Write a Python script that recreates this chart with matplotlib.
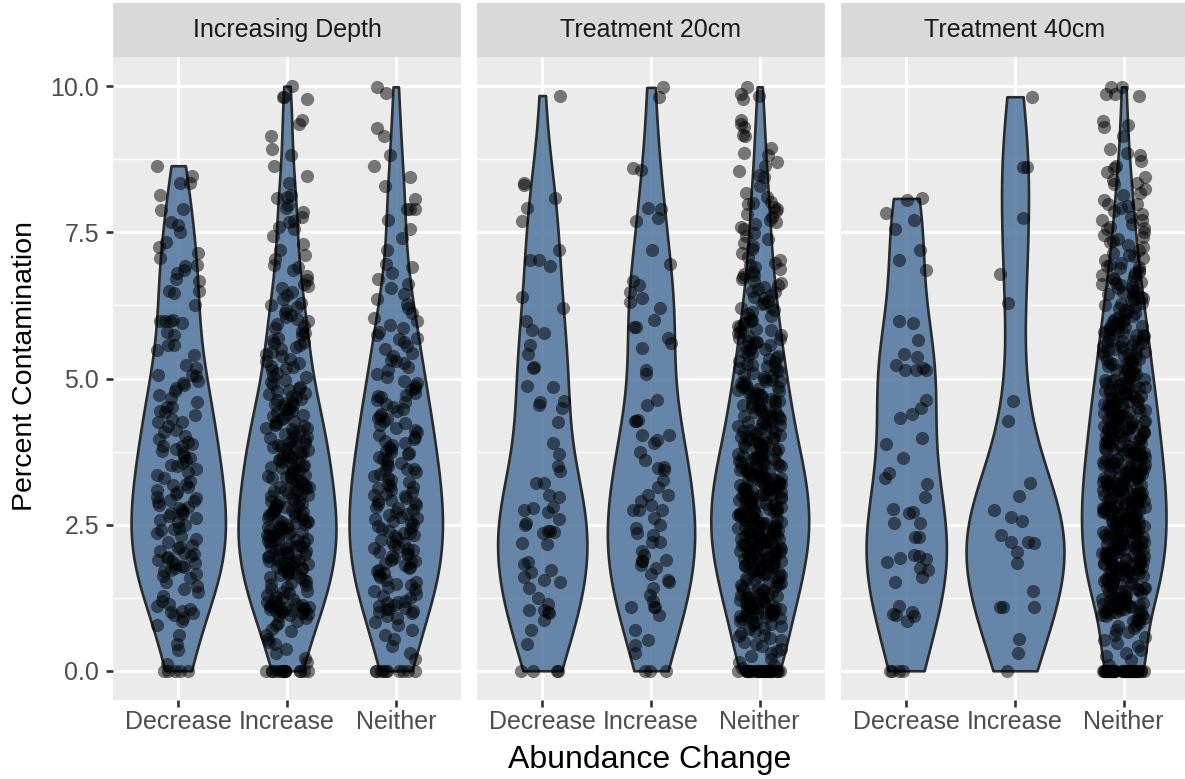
import numpy as np
import matplotlib
matplotlib.use("Agg")
import matplotlib.pyplot as plt
from matplotlib import cbook, font_manager

# ---------------------------------------------------------------- data
panel_titles = ["Increasing Depth", "Treatment 20cm", "Treatment 40cm"]
categories = ["Decrease", "Increase", "Neither"]
y_ticks = [0.0, 2.5, 5.0, 7.5, 10.0]
y_tick_labels = ["0.0", "2.5", "5.0", "7.5", "10.0"]
y_minor_ticks = [1.25, 3.75, 6.25, 8.75]
x_title = "Abundance Change"
y_title = "Percent Contamination"

depth_decrease = [
    0.0, 0.0, 0.0, 0.0, 0.0,
    0.12, 0.35, 0.45, 0.62, 0.78, 0.85, 0.9, 0.95, 0.98,
    1.0, 1.02, 1.05, 1.1, 1.15, 1.2, 1.28, 1.35, 1.4, 1.45, 1.52, 1.58, 1.62, 1.66,
    1.7, 1.72, 1.75, 1.78, 1.8, 1.82, 1.85, 1.88, 1.9, 1.93, 1.95, 1.97, 1.99,
    2.02, 2.05, 2.1, 2.15, 2.2, 2.25, 2.3, 2.35, 2.4, 2.45, 2.5, 2.55, 2.58, 2.62,
    2.65, 2.7, 2.72, 2.75, 2.78, 2.8, 2.84, 2.88, 2.9, 2.93, 2.96, 2.98, 2.12, 2.42, 2.68,
    3.02, 3.06, 3.1, 3.15, 3.2, 3.25, 3.3, 3.35, 3.4, 3.45, 3.5, 3.55, 3.6, 3.64,
    3.68, 3.72, 3.76, 3.8, 3.84, 3.88, 3.92, 3.96, 3.18, 3.52, 3.85,
    4.02, 4.08, 4.12, 4.18, 4.26, 4.26, 4.3, 4.38, 4.43, 4.45, 4.52, 4.52, 4.6, 4.66,
    4.72, 4.78, 4.84, 4.89, 4.92, 4.96,
    5.04, 5.06, 5.06, 5.18, 5.23, 5.4, 5.49, 5.58, 5.58, 5.74, 5.8, 5.95, 5.99, 5.99, 5.99,
    6.0, 6.26, 6.46, 6.49, 6.49, 6.66, 6.7, 6.8, 6.86, 6.92, 6.94,
    7.06, 7.15, 7.25, 7.34, 7.5, 7.63, 7.68, 7.88, 7.9,
    8.14, 8.34, 8.34, 8.47, 8.64,
]

depth_increase = [0.0] * 14 + [
    0.15, 0.22, 0.3, 0.38, 0.45, 0.5, 0.55, 0.62, 0.68, 0.72, 0.78, 0.82, 0.86, 0.9,
    0.93, 0.95, 0.97, 0.99,
    1.0, 1.01, 1.02, 1.03, 1.05, 1.06, 1.08, 1.1, 1.11, 1.13, 1.15, 1.17, 1.2, 1.22,
    1.25, 1.28, 1.3, 1.33, 1.36, 1.4, 1.43, 1.46, 1.5, 1.53, 1.56, 1.6, 1.63, 1.65,
    1.68, 1.7, 1.72, 1.74, 1.76, 1.78, 1.8, 1.82, 1.84, 1.86, 1.88, 1.9, 1.92, 1.94,
    1.96, 1.98, 1.07, 1.12, 1.18, 1.35, 1.48, 1.58, 1.67, 1.73, 1.79, 1.85, 1.91, 1.97,
    1.04, 1.09,
    2.0, 2.02, 2.04, 2.06, 2.08, 2.1, 2.12, 2.14, 2.16, 2.18, 2.2, 2.22, 2.24, 2.26,
    2.28, 2.3, 2.32, 2.34, 2.36, 2.38, 2.4, 2.42, 2.44, 2.46, 2.48, 2.5, 2.52, 2.54,
    2.56, 2.58, 2.6, 2.62, 2.64, 2.66, 2.68, 2.7, 2.72, 2.74, 2.76, 2.78, 2.8, 2.82,
    2.84, 2.86, 2.88, 2.9, 2.93, 2.96, 2.99, 2.05, 2.15, 2.25, 2.35, 2.45, 2.55, 2.65,
    2.75, 2.85, 2.11, 2.31, 2.51, 2.71, 2.91,
    3.0, 3.02, 3.05, 3.07, 3.1, 3.12, 3.15, 3.17, 3.2, 3.22, 3.25, 3.27, 3.3, 3.32,
    3.35, 3.37, 3.4, 3.42, 3.45, 3.47, 3.5, 3.52, 3.55, 3.57, 3.6, 3.62, 3.65, 3.67,
    3.7, 3.72, 3.75, 3.77, 3.8, 3.82, 3.85, 3.87, 3.9, 3.92, 3.95, 3.98, 3.04, 3.14,
    3.24, 3.34, 3.44, 3.54, 3.64, 3.74, 3.84, 3.94, 3.09, 3.29, 3.49, 3.69, 3.89,
    4.0, 4.03, 4.05, 4.08, 4.1, 4.13, 4.15, 4.18, 4.2, 4.23, 4.25, 4.28, 4.3, 4.33,
    4.35, 4.38, 4.4, 4.43, 4.45, 4.48, 4.5, 4.53, 4.55, 4.58, 4.6, 4.63, 4.65, 4.68,
    4.7, 4.73, 4.75, 4.78, 4.8, 4.83, 4.86, 4.9, 4.94, 4.98, 4.16, 4.56,
    5.02, 5.05, 5.1, 5.14, 5.18, 5.22, 5.26, 5.3, 5.34, 5.38, 5.42, 5.46, 5.5, 5.54,
    5.58, 5.62, 5.66, 5.7, 5.74, 5.78, 5.82, 5.86, 5.9, 5.94, 5.98, 5.2, 5.6,
    6.02, 6.08, 6.12, 6.18, 6.25, 6.3, 6.36, 6.42, 6.48, 6.58, 6.61, 6.75, 6.95, 6.05,
    6.22, 6.55, 6.68, 6.85, 6.9,
    7.05, 7.12, 7.2, 7.3, 7.44, 7.55, 7.6, 7.68, 7.7, 7.77, 7.85, 7.91, 7.97,
    8.08, 8.11, 8.14, 8.35, 8.46, 8.63, 8.83, 8.93,
    9.15, 9.36, 9.42, 9.78, 9.82, 9.82, 10.0,
]

depth_neither = [0.0] * 10 + [
    0.2, 0.3, 0.42, 0.55, 0.62, 0.7, 0.78, 0.84, 0.9, 0.94, 0.98,
    1.0, 1.02, 1.05, 1.08, 1.1, 1.13, 1.16, 1.2, 1.24, 1.28, 1.32, 1.36, 1.4, 1.44,
    1.48, 1.52, 1.56, 1.6, 1.64, 1.68, 1.72, 1.75, 1.78, 1.81, 1.84, 1.87, 1.9, 1.93,
    1.96, 1.99, 1.06, 1.18, 1.46, 1.7, 1.86,
    2.0, 2.03, 2.06, 2.09, 2.12, 2.15, 2.18, 2.21, 2.24, 2.27, 2.3, 2.33, 2.36, 2.39,
    2.42, 2.45, 2.48, 2.51, 2.54, 2.57, 2.6, 2.63, 2.66, 2.69, 2.72, 2.75, 2.78, 2.81,
    2.84, 2.87, 2.9, 2.93, 2.96, 2.99, 2.1, 2.35, 2.62, 2.85,
    3.0, 3.03, 3.06, 3.1, 3.13, 3.16, 3.2, 3.23, 3.26, 3.3, 3.33, 3.36, 3.4, 3.43,
    3.46, 3.5, 3.53, 3.56, 3.6, 3.63, 3.66, 3.7, 3.73, 3.76, 3.8, 3.83, 3.86, 3.9,
    3.93, 3.96, 3.15, 3.45, 3.75,
    4.0, 4.04, 4.08, 4.12, 4.16, 4.2, 4.24, 4.28, 4.32, 4.36, 4.4, 4.44, 4.48, 4.52,
    4.56, 4.6, 4.64, 4.68, 4.72, 4.76, 4.8, 4.84, 4.88, 4.92, 4.96, 4.3, 4.7,
    5.02, 5.08, 5.14, 5.2, 5.26, 5.32, 5.38, 5.44, 5.5, 5.56, 5.62, 5.68, 5.74, 5.8,
    5.86, 5.92, 5.98, 5.3, 5.7,
    6.04, 6.12, 6.2, 6.28, 6.36, 6.45, 6.55, 6.62, 6.7, 6.8, 6.9, 6.96,
    7.19, 7.4, 7.55, 7.71, 7.9, 7.9, 7.9,
    8.07, 8.3, 8.45, 8.64, 8.83,
    9.14, 9.29, 9.89, 9.99,
]

treat20_decrease = [
    0.0, 0.0, 0.0, 0.0, 0.46, 0.7, 0.87, 0.98,
    1.0, 1.04, 1.04, 1.15, 1.24, 1.41, 1.52, 1.55, 1.6, 1.69, 1.72, 1.82, 1.86,
    2.17, 2.19, 2.36, 2.37, 2.39, 2.39, 2.49, 2.53, 2.6, 2.72, 2.75, 2.78, 2.8, 2.97,
    3.01, 3.21, 3.21, 3.42, 3.5, 3.71, 3.9,
    4.26, 4.5, 4.55, 4.6, 4.62, 4.86, 4.87,
    5.18, 5.2, 5.42, 5.58, 5.78, 5.83, 5.99,
    6.2, 6.4, 6.93, 7.02, 7.02, 7.19, 7.7, 7.92,
    8.09, 8.31, 8.35, 9.84,
]

treat20_increase = [
    0.0, 0.0, 0.0, 0.3, 0.44, 0.52, 0.69, 0.95,
    1.09, 1.09, 1.09, 1.2, 1.3, 1.41, 1.52, 1.55, 1.65, 1.75, 1.81, 1.87, 1.87, 1.9, 1.98,
    2.05, 2.21, 2.21, 2.32, 2.36, 2.45, 2.5, 2.61, 2.75, 2.75, 2.75, 2.84, 2.9,
    3.01, 3.01, 3.15, 3.27, 3.44, 3.47, 3.49, 3.6, 3.75, 3.9, 3.95,
    4.04, 4.04, 4.27, 4.27, 4.29, 4.55, 4.63,
    5.08, 5.15, 5.52, 5.6, 5.7, 5.88, 5.88,
    6.0, 6.2, 6.31, 6.38, 6.48, 6.6, 6.66, 6.96,
    7.19, 7.7, 7.74, 7.9, 7.92,
    8.56, 8.6, 9.82, 9.98,
]

treat20_neither = [0.0] * 30 + [
    0.05, 0.1, 0.15, 0.2, 0.25, 0.3, 0.34, 0.38, 0.42, 0.46, 0.5, 0.53, 0.56, 0.59,
    0.62, 0.65, 0.68, 0.71, 0.74, 0.76, 0.78, 0.8, 0.82, 0.84, 0.86, 0.88, 0.9, 0.91,
    0.92, 0.93, 0.94, 0.95, 0.96, 0.97, 0.98, 0.99,
    1.0, 1.01, 1.02, 1.03, 1.05, 1.06, 1.07, 1.09, 1.1, 1.11, 1.12, 1.14, 1.15, 1.17,
    1.18, 1.2, 1.21, 1.23, 1.24, 1.26, 1.28, 1.3, 1.32, 1.34, 1.36, 1.38, 1.4, 1.42,
    1.44, 1.46, 1.48, 1.5, 1.52, 1.54, 1.56, 1.58, 1.6, 1.62, 1.64, 1.66, 1.68, 1.7,
    1.71, 1.72, 1.74, 1.75, 1.76, 1.78, 1.79, 1.8, 1.81, 1.82, 1.84, 1.85, 1.86, 1.88,
    1.89, 1.9, 1.91, 1.92, 1.93, 1.94, 1.95, 1.96, 1.97, 1.98, 1.99, 1.04, 1.13, 1.25,
    1.35, 1.45, 1.55, 1.65, 1.73, 1.83, 1.87, 1.08, 1.19, 1.29,
    2.0, 2.01, 2.02, 2.03, 2.04, 2.05, 2.06, 2.07, 2.08, 2.09, 2.1, 2.11, 2.12, 2.13,
    2.14, 2.15, 2.16, 2.17, 2.18, 2.19, 2.2, 2.21, 2.22, 2.23, 2.24, 2.25, 2.26, 2.27,
    2.28, 2.29, 2.3, 2.31, 2.32, 2.33, 2.34, 2.35, 2.36, 2.37, 2.38, 2.39, 2.4, 2.41,
    2.42, 2.43, 2.44, 2.45, 2.46, 2.47, 2.48, 2.49, 2.5, 2.52, 2.54, 2.56, 2.58, 2.6,
    2.62, 2.64, 2.66, 2.68, 2.7, 2.72, 2.74, 2.76, 2.78, 2.8, 2.82, 2.84, 2.86, 2.88,
    2.9, 2.92, 2.94, 2.96, 2.98, 2.51, 2.53, 2.57, 2.61, 2.65, 2.69, 2.73, 2.77, 2.81,
    2.85, 2.89, 2.93, 2.97, 2.55, 2.63, 2.71, 2.79, 2.87, 2.95, 2.99,
    3.0, 3.01, 3.02, 3.03, 3.04, 3.05, 3.06, 3.07, 3.08, 3.09, 3.1, 3.11, 3.12, 3.13,
    3.14, 3.15, 3.16, 3.17, 3.18, 3.19, 3.2, 3.21, 3.22, 3.23, 3.24, 3.25, 3.26, 3.27,
    3.28, 3.29, 3.3, 3.32, 3.34, 3.36, 3.38, 3.4, 3.42, 3.44, 3.46, 3.48, 3.5, 3.52,
    3.54, 3.56, 3.58, 3.6, 3.62, 3.64, 3.66, 3.68, 3.7, 3.72, 3.74, 3.76, 3.78, 3.8,
    3.82, 3.84, 3.86, 3.88, 3.9, 3.92, 3.94, 3.96, 3.98, 3.31, 3.35, 3.39, 3.43, 3.47,
    3.51, 3.55, 3.59, 3.63, 3.67, 3.71, 3.75, 3.79, 3.83, 3.87, 3.91, 3.95, 3.99, 3.33,
    3.57,
    4.0, 4.02, 4.04, 4.06, 4.08, 4.1, 4.12, 4.14, 4.16, 4.18, 4.2, 4.22, 4.24, 4.26,
    4.28, 4.3, 4.32, 4.34, 4.36, 4.38, 4.4, 4.42, 4.44, 4.46, 4.48, 4.5, 4.52, 4.54,
    4.56, 4.58, 4.6, 4.62, 4.64, 4.66, 4.68, 4.7, 4.72, 4.74, 4.76, 4.78, 4.8, 4.82,
    4.84, 4.86, 4.88, 4.9, 4.92, 4.94, 4.96, 4.98, 4.05, 4.15, 4.25, 4.35, 4.45, 4.55,
    4.65, 4.75, 4.85, 4.95,
    5.0, 5.03, 5.05, 5.08, 5.1, 5.13, 5.15, 5.18, 5.2, 5.23, 5.25, 5.28, 5.3, 5.33,
    5.35, 5.38, 5.4, 5.43, 5.45, 5.48, 5.5, 5.53, 5.55, 5.58, 5.6, 5.63, 5.65, 5.68,
    5.7, 5.73, 5.75, 5.78, 5.8, 5.83, 5.85, 5.88, 5.9, 5.93, 5.95, 5.98, 5.22, 5.62,
    6.0, 6.03, 6.07, 6.1, 6.13, 6.17, 6.2, 6.23, 6.27, 6.3, 6.33, 6.37, 6.4, 6.43,
    6.48, 6.5, 6.53, 6.57, 6.6, 6.63, 6.67, 6.7, 6.73, 6.77, 6.79, 6.83, 6.87, 6.9,
    6.95, 6.98,
    7.02, 7.08, 7.15, 7.21, 7.26, 7.32, 7.38, 7.44, 7.49, 7.55, 7.6, 7.64, 7.68, 7.71,
    7.76, 7.82, 7.86, 7.9, 7.94, 7.98,
    8.0, 8.02, 8.11, 8.17, 8.3, 8.44, 8.48, 8.55, 8.63, 8.7, 8.83, 8.85, 8.94,
    9.15, 9.17, 9.3, 9.36, 9.43, 9.79, 9.83, 9.87, 9.99,
]

treat40_decrease = [
    0.0, 0.0, 0.0, 0.0, 0.86, 0.94, 0.95, 0.97,
    1.0, 1.1, 1.52, 1.6, 1.72, 1.76, 1.86, 1.92, 1.93, 1.96, 1.98,
    2.29, 2.29, 2.53, 2.53, 2.7, 2.72, 2.77, 2.97,
    3.19, 3.3, 3.38, 3.64, 3.88, 3.99,
    4.32, 4.39, 4.5, 4.63,
    5.14, 5.15, 5.15, 5.18, 5.23, 5.37, 5.42, 5.66, 5.95, 5.99,
    6.85, 7.02, 7.19, 7.55, 7.71, 7.83, 8.05, 8.08,
]

treat40_increase = [
    0.0, 0.3, 0.54, 1.09, 1.09, 1.09, 1.37, 1.85, 2.03, 2.19, 2.2, 2.2, 2.32,
    2.56, 2.63, 2.75, 2.99, 3.22, 4.28, 4.62, 6.29, 6.79, 7.75, 8.62, 8.62, 9.82,
]

treat40_neither = [0.0] * 45 + [
    0.1, 0.18, 0.25, 0.3, 0.36, 0.42, 0.48, 0.53, 0.58, 0.62, 0.66, 0.7, 0.73, 0.76,
    0.79, 0.82, 0.85, 0.87, 0.89, 0.91, 0.93, 0.95, 0.96, 0.98, 0.99,
    1.0, 1.01, 1.02, 1.03, 1.04, 1.05, 1.06, 1.07, 1.08, 1.09, 1.1, 1.11, 1.12, 1.13,
    1.14, 1.15, 1.16, 1.17, 1.18, 1.19, 1.2, 1.22, 1.24, 1.26, 1.28, 1.3, 1.32, 1.34,
    1.36, 1.38, 1.4, 1.42, 1.44, 1.46, 1.48, 1.5, 1.52, 1.54, 1.56, 1.58, 1.6, 1.62,
    1.64, 1.66, 1.68, 1.7, 1.71, 1.72, 1.73, 1.74, 1.75, 1.76, 1.77, 1.78, 1.79, 1.8,
    1.81, 1.82, 1.83, 1.84, 1.85, 1.86, 1.87, 1.88, 1.89, 1.9, 1.91, 1.92, 1.93, 1.94,
    1.95, 1.96, 1.97, 1.98, 1.99, 1.21, 1.25, 1.33, 1.41, 1.49, 1.57, 1.65, 1.69, 1.23,
    1.37, 1.45, 1.53, 1.61, 1.67,
    2.0, 2.01, 2.02, 2.03, 2.04, 2.05, 2.06, 2.07, 2.08, 2.09, 2.1, 2.11, 2.12, 2.13,
    2.14, 2.15, 2.16, 2.17, 2.18, 2.19, 2.2, 2.21, 2.22, 2.23, 2.24, 2.25, 2.26, 2.27,
    2.28, 2.29, 2.3, 2.31, 2.32, 2.33, 2.34, 2.35, 2.36, 2.37, 2.38, 2.39, 2.4, 2.41,
    2.42, 2.43, 2.44, 2.45, 2.46, 2.47, 2.48, 2.49, 2.5, 2.52, 2.54, 2.56, 2.58, 2.6,
    2.62, 2.64, 2.66, 2.68, 2.7, 2.72, 2.74, 2.76, 2.78, 2.8, 2.82, 2.84, 2.86, 2.88,
    2.9, 2.92, 2.94, 2.96, 2.98, 2.51, 2.55, 2.59, 2.63, 2.67, 2.71, 2.75, 2.79, 2.83,
    2.87, 2.91, 2.95, 2.99, 2.53, 2.57, 2.61, 2.65, 2.69, 2.73, 2.77, 2.81, 2.85, 2.89,
    2.93,
    3.0, 3.01, 3.02, 3.03, 3.04, 3.05, 3.06, 3.07, 3.08, 3.09, 3.1, 3.11, 3.12, 3.13,
    3.14, 3.15, 3.16, 3.17, 3.18, 3.19, 3.2, 3.21, 3.22, 3.23, 3.24, 3.25, 3.26, 3.27,
    3.28, 3.29, 3.3, 3.31, 3.32, 3.33, 3.34, 3.35, 3.36, 3.37, 3.38, 3.39, 3.4, 3.41,
    3.42, 3.43, 3.44, 3.46, 3.48, 3.5, 3.52, 3.54, 3.56, 3.58, 3.6, 3.62, 3.64, 3.66,
    3.68, 3.7, 3.72, 3.74, 3.76, 3.78, 3.8, 3.82, 3.84, 3.86, 3.88, 3.9, 3.92, 3.94,
    3.96, 3.98, 3.45, 3.49, 3.53, 3.57, 3.61, 3.65, 3.69, 3.73, 3.77, 3.81, 3.85, 3.89,
    3.93, 3.97, 3.47, 3.55, 3.63, 3.71, 3.79,
    4.0, 4.02, 4.04, 4.06, 4.08, 4.1, 4.12, 4.14, 4.16, 4.18, 4.2, 4.22, 4.24, 4.26,
    4.28, 4.3, 4.32, 4.34, 4.36, 4.38, 4.4, 4.42, 4.44, 4.46, 4.48, 4.5, 4.52, 4.54,
    4.56, 4.58, 4.6, 4.62, 4.64, 4.66, 4.68, 4.7, 4.72, 4.74, 4.76, 4.78, 4.8, 4.82,
    4.84, 4.86, 4.88, 4.9, 4.92, 4.94, 4.96, 4.98, 4.01, 4.05, 4.09, 4.13, 4.17, 4.21,
    4.25, 4.29, 4.33, 4.37, 4.41, 4.45, 4.49, 4.53, 4.57, 4.61, 4.65, 4.69, 4.73, 4.77,
    4.81, 4.85, 4.89, 4.93, 4.97, 4.03, 4.11, 4.19, 4.27,
    5.0, 5.02, 5.04, 5.06, 5.08, 5.1, 5.12, 5.14, 5.16, 5.18, 5.2, 5.22, 5.24, 5.26,
    5.28, 5.3, 5.32, 5.34, 5.36, 5.38, 5.4, 5.42, 5.44, 5.46, 5.48, 5.5, 5.52, 5.54,
    5.56, 5.58, 5.6, 5.62, 5.64, 5.66, 5.68, 5.7, 5.72, 5.74, 5.76, 5.78, 5.8, 5.82,
    5.84, 5.86, 5.88, 5.9, 5.92, 5.94, 5.96, 5.98, 5.05, 5.15, 5.25, 5.35, 5.45, 5.55,
    5.65, 5.75, 5.85, 5.95,
    6.0, 6.02, 6.05, 6.07, 6.1, 6.12, 6.15, 6.17, 6.2, 6.22, 6.25, 6.27, 6.3, 6.32,
    6.35, 6.37, 6.4, 6.42, 6.45, 6.47, 6.5, 6.52, 6.55, 6.57, 6.6, 6.62, 6.65, 6.67,
    6.7, 6.72, 6.75, 6.77, 6.8, 6.83, 6.85, 6.89, 6.9, 6.92, 6.95, 6.97, 6.48, 6.63,
    7.03, 7.06, 7.09, 7.12, 7.15, 7.2, 7.25, 7.29, 7.33, 7.38, 7.42, 7.46, 7.5, 7.55,
    7.6, 7.65, 7.71, 7.71, 7.76, 7.82, 7.86, 7.91, 7.95, 7.99, 7.99, 7.35, 7.58,
    8.06, 8.14, 8.17, 8.25, 8.33, 8.34, 8.4, 8.45, 8.54, 8.6, 8.63, 8.72, 8.83, 8.85,
    8.93,
    9.14, 9.3, 9.34, 9.41, 9.83, 9.86, 9.86, 9.98, 9.99,
]

panel_groups = {
    "Increasing Depth": [depth_decrease, depth_increase, depth_neither],
    "Treatment 20cm": [treat20_decrease, treat20_increase, treat20_neither],
    "Treatment 40cm": [treat40_decrease, treat40_increase, treat40_neither],
}

# ---------------------------------------------------------------- style
plt.rcParams["font.family"] = ["Liberation Sans", "DejaVu Sans"]
installed = {f.name for f in font_manager.fontManager.ttflist}
narrow_family = "Liberation Sans Narrow" if "Liberation Sans Narrow" in installed else "Liberation Sans"

PANEL_BG = "#ebebeb"
STRIP_BG = "#d9d9d9"
VIOLIN_FILL = (0.31, 0.46, 0.62, 0.85)
VIOLIN_EDGE = "#2b2b2b"
TICK_COLOR = "#333333"
TICK_LABEL_COLOR = "#4d4d4d"
VIOLIN_WIDTH = 0.9
JITTER_HALF = 0.2


def bw_nrd0(sample):
    """Silverman's rule of thumb, as used by R's density()."""
    sample = np.asarray(sample, float)
    sd = np.std(sample, ddof=1)
    q75, q25 = np.percentile(sample, [75, 25])
    lo = min(sd, (q75 - q25) / 1.34)
    if lo == 0:
        lo = sd if sd > 0 else 1.0
    return 0.9 * lo * len(sample) ** -0.2


def gaussian_kde_nrd0(sample, coords):
    sample = np.asarray(sample, float)
    bw = bw_nrd0(sample)
    z = (np.asarray(coords)[:, None] - sample[None, :]) / bw
    return np.exp(-0.5 * z * z).sum(axis=1) / (len(sample) * bw * np.sqrt(2 * np.pi))


def jitter_offsets(n, salt=0.0):
    # scattered horizontal offsets from an index hash (fixed, reproducible)
    i = np.arange(n, dtype=float) + 1.0 + salt
    u = np.modf(np.abs(np.sin(i * 12.9898 + 78.233) * 43758.5453))[0]
    return (u - 0.5) * 2 * JITTER_HALF


# ---------------------------------------------------------------- layout (pixels)
W, H = 1185, 779
panel_lefts = [113, 477, 841]
panel_w = 348
panel_top, panel_bottom = 57, 700
strip_top = 3

fig = plt.figure(figsize=(W / 100, H / 100), dpi=100)
fig.patch.set_facecolor("white")

positions = [1, 2, 3]

for k, title in enumerate(panel_titles):
    left = panel_lefts[k]
    ax = fig.add_axes([left / W, 1 - panel_bottom / H, panel_w / W,
                       (panel_bottom - panel_top) / H])
    ax.set_facecolor(PANEL_BG)
    for s in ax.spines.values():
        s.set_visible(False)
    ax.set_xlim(0.4, 3.6)
    ax.set_ylim(-0.5, 10.5)
    ax.set_xticks(positions)
    ax.set_xticklabels(categories)
    ax.set_yticks(y_ticks)
    ax.set_yticks(y_minor_ticks, minor=True)
    ax.set_axisbelow(True)
    ax.grid(which="major", color="white", linewidth=2.1)
    ax.grid(which="minor", axis="y", color="white", linewidth=1.0)
    ax.tick_params(which="minor", length=0)
    ax.tick_params(which="major", length=5, width=1.9, color=TICK_COLOR,
                   labelsize=18, labelcolor=TICK_LABEL_COLOR)
    ax.tick_params(axis="x", pad=2.2)
    ax.tick_params(axis="y", pad=5)
    if k == 0:
        ax.set_yticklabels(y_tick_labels)
    else:
        ax.tick_params(axis="y", left=False, labelleft=False)

    groups = [np.asarray(g, float) for g in panel_groups[title]]
    stats = cbook.violin_stats(groups, gaussian_kde_nrd0, points=512)
    peaks = [st["vals"].max() for st in stats]
    panel_peak = max(peaks)
    widths = [VIOLIN_WIDTH * p / panel_peak for p in peaks]
    parts = ax.violin(stats, positions=positions, widths=widths,
                      showmeans=False, showextrema=False, showmedians=False)
    for body in parts["bodies"]:
        body.set_alpha(None)
        body.set_facecolor(VIOLIN_FILL)
        body.set_edgecolor(VIOLIN_EDGE)
        body.set_linewidth(1.9)
        body.set_zorder(2)

    for j, (pos, vals) in enumerate(zip(positions, groups)):
        ax.scatter(pos + jitter_offsets(len(vals), salt=1000 * (3 * k + j)), vals,
                   s=90, color="black", alpha=0.5, linewidths=0, zorder=3)

    # facet strip
    sax = fig.add_axes([left / W, 1 - panel_top / H, panel_w / W,
                        (panel_top - strip_top) / H])
    sax.set_facecolor(STRIP_BG)
    sax.set_xticks([])
    sax.set_yticks([])
    for s in sax.spines.values():
        s.set_visible(False)
    sax.text(0.5, 0.5, title, ha="center", va="center", fontsize=18,
             color="#1a1a1a", transform=sax.transAxes)

fig.text(650 / W, 1 - 768 / H, x_title, ha="center", va="baseline",
         fontsize=23, color="black")
fig.text(25 / W, 1 - 366 / H, y_title, rotation=90, ha="center", va="center",
         fontsize=24 if narrow_family != "Liberation Sans" else 20.5,
         family=[narrow_family, "DejaVu Sans"], color="black")

fig.savefig("out.png", dpi=100, facecolor="white")
